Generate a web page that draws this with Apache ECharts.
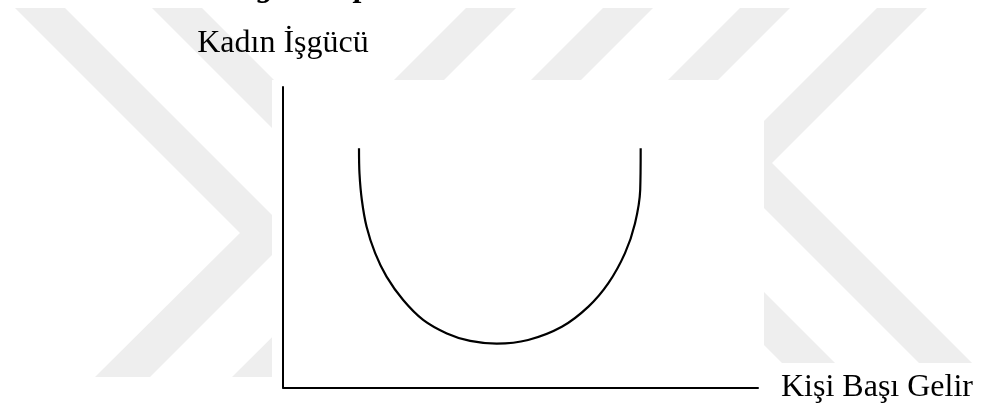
<!DOCTYPE html>
<html>
<head>
<meta charset="utf-8">
<script src="https://cdn.jsdelivr.net/npm/echarts@6/dist/echarts.min.js"></script>
<style>
  html, body { margin: 0; padding: 0; background: #ffffff; }
  #chart { width: 982px; height: 410px; }
</style>
</head>
<body>
<div id="chart"></div>
<script>
// ---- data ----
const xAxisName = 'Kişi Başı Gelir';
const yAxisName = 'Kadın İşgücü';
const incomeX = [16.0, 16.1, 16.6, 17.6, 19.4, 21.8, 25.3, 29.5, 34.5, 39.4, 45.0, 51.6, 58.7, 64.3, 68.5, 72.0, 74.1, 75.2, 75.3];
const laborY  = [79.6, 71.3, 62.4, 53.5, 44.7, 36.9, 29.1, 22.5, 18.0, 15.5, 14.6, 15.8, 20.2, 26.9, 34.7, 44.7, 54.6, 65.7, 79.6];
const titleFragments = ['g', 'p'];

// ---- background watermark (decoration) ----
const wmColor = '#eeeeee';
const leftChevron = [[15,8],[65,8],[292,235],[150,377],[95,377],[240,233]];
const rightChevron = [[877,8],[927,8],[772,163],[972,363],[919,363],[720.5,164.5]];
const shiftPts = (pts, dx) => pts.map(p => [p[0] + dx, p[1]]);
const wmShapes = [
  leftChevron, shiftPts(leftChevron, 137),
  rightChevron, shiftPts(rightChevron, -137), shiftPts(rightChevron, -274), shiftPts(rightChevron, -411)
];

const graphics = wmShapes.map(pts => ({
  type: 'polygon', z: -20, silent: true,
  shape: { points: pts },
  style: { fill: wmColor }
}));
graphics.push({
  type: 'rect', z: -10, silent: true,
  shape: { x: 272, y: 80, width: 492, height: 330 },
  style: { fill: '#ffffff' }
});
const fragX = [258, 355];
titleFragments.forEach((t, i) => {
  graphics.push({
    type: 'text', z: 5, silent: true,
    x: fragX[i], y: -12,
    style: {
      text: t, fill: '#000',
      font: 'italic bold 32px "Liberation Serif"',
      align: 'left', verticalAlign: 'middle'
    }
  });
});

const chart = echarts.init(document.getElementById('chart'), null, { renderer: 'canvas' });
const nameStyle = { fontFamily: 'Liberation Serif', fontSize: 32, color: '#000' };

chart.setOption({
  backgroundColor: '#ffffff',
  animation: false,
  graphic: { elements: graphics },
  grid: { left: 283, top: 87, width: 475, height: 300.5, containLabel: false },
  xAxis: {
    type: 'value', min: 0, max: 100,
    name: xAxisName, nameLocation: 'end', nameGap: 23,
    nameTextStyle: Object.assign({}, nameStyle, { align: 'left', verticalAlign: 'middle', padding: [0, 0, 8, 0] }),
    axisLine: { show: true, onZero: false, lineStyle: { color: '#000', width: 2 } },
    axisTick: { show: false }, axisLabel: { show: false }, splitLine: { show: false }
  },
  yAxis: {
    type: 'value', min: 0, max: 100,
    name: yAxisName, nameLocation: 'end', nameGap: 27,
    nameTextStyle: Object.assign({}, nameStyle, { align: 'center', verticalAlign: 'bottom' }),
    axisLine: { show: true, onZero: false, lineStyle: { color: '#000', width: 2 } },
    axisTick: { show: false }, axisLabel: { show: false }, splitLine: { show: false }
  },
  series: [{
    type: 'line',
    data: incomeX.map((x, i) => [x, laborY[i]]),
    smooth: 0.33,
    showSymbol: false,
    lineStyle: { color: '#000', width: 2.2 },
    z: 3
  }]
});
</script>
</body>
</html>
